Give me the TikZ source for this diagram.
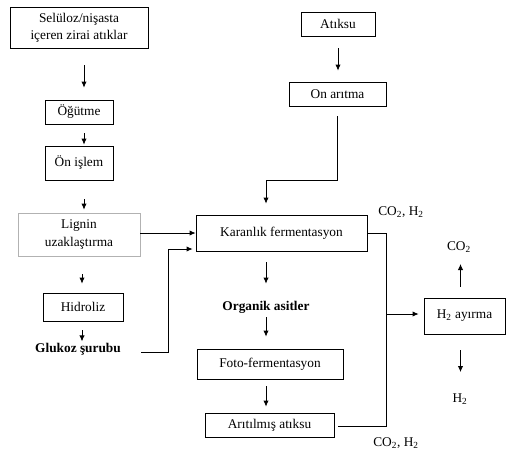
\documentclass[tikz,border=0pt]{standalone}
\usepackage{fontspec}
\setmainfont{Liberation Serif}
\usetikzlibrary{arrows.meta}

\begin{document}
\begin{tikzpicture}[x=0.75pt,y=-0.75pt,font=\fontsize{10}{13}\selectfont,
  box/.style={draw,line width=0.6pt,align=center,inner sep=1pt},
  lbl/.style={inner sep=1pt},
  arr/.style={-{Latex[length=4.5pt,width=4pt]},line width=0.6pt},
  ln/.style={line width=0.6pt}]
\useasboundingbox (0,0) rectangle (506,454);

% left column
\node[box,minimum width=103.5pt,minimum height=30.75pt] (sel) at (79,27.5) {Selüloz/nişasta\\içeren zirai atıklar};
\node[box,minimum width=51pt,minimum height=18pt] (ogu) at (79,112) {Öğütme};
\node[box,minimum width=51pt,minimum height=25.5pt] (onis) at (79,163) {Ön işlem};
\node[box,draw=gray!60,minimum width=91.5pt,minimum height=32.25pt] (lig) at (79,234.5) {Lignin\\uzaklaştırma};
\node[box,minimum width=60pt,minimum height=21pt] (hid) at (83,307) {Hidroliz};
\node[lbl,font=\bfseries] (glu) at (78,349) {Glukoz şurubu};

% waste water
\node[box,minimum width=55.5pt,minimum height=18pt] (atik) at (338,24) {Atıksu};
\node[box,minimum width=72.75pt,minimum height=18pt] (onar) at (337.5,94) {On arıtma};

% middle column
\node[box,minimum width=128.25pt,minimum height=27pt] (kar) at (281.5,233) {Karanlık fermentasyon};
\node[lbl,font=\bfseries] (org) at (266,307) {Organik asitler};
\node[box,minimum width=109.5pt,minimum height=22.5pt] (foto) at (270,364) {Foto-fermentasyon};
\node[box,minimum width=96.75pt,minimum height=18pt] (arit) at (269.5,425) {Arıtılmış atıksu};

% right side
\node[box,minimum width=60.75pt,minimum height=27pt] (h2ay) at (464.5,316) {H\textsubscript{2} ayırma};
\node[lbl] (gtop) at (401,212) {CO\textsubscript{2}, H\textsubscript{2}};
\node[lbl] (gbot) at (396,443) {CO\textsubscript{2}, H\textsubscript{2}};
\node[lbl] (co2) at (459,247) {CO\textsubscript{2}};
\node[lbl] (h2) at (460,399) {H\textsubscript{2}};

\coordinate (bend) at (266,180);
\coordinate (gk) at (168,249);
\coordinate (rt) at (386,233);
\coordinate (rb) at (386,426);

% arrows
\draw[arr,shorten <=12.75pt,shorten >=9pt] ([xshift=3.75pt]sel.south) -- ([xshift=3.75pt]ogu.north);
\draw[arr,shorten <=6.75pt,shorten >=.75pt] ([xshift=3.75pt]ogu.south) -- ([xshift=3.75pt]onis.north);
\draw[arr,shorten <=14.25pt,shorten >=2.25pt] ([xshift=3.75pt]onis.south) -- ([xshift=3.75pt]lig.north);
\draw[arr,shorten <=13.5pt,shorten >=6.75pt] ([xshift=-.75pt]hid.north |- lig.south) -- ([xshift=-.75pt]hid.north);
\draw[arr,shorten <=6.75pt] ([xshift=-.75pt]hid.south) -- ([xshift=-.75pt]hid.south |- glu.north);
\draw[arr,shorten <=9pt,shorten >=8.25pt] (atik.south) -- (atik.south |- onar.north);
\draw[arr,shorten >=8.25pt] ([yshift=-7.5pt]onar.south) |- (bend) -- (bend |- kar.north);
\draw[arr] (lig.east |- kar.west) -- (kar.west);
\draw[arr,shorten <=14pt,shorten >=2.25pt] (glu.base east) -| (gk) -- (gk -| kar.west);
\draw[arr,shorten <=8.25pt,shorten >=11.75pt] (org.north |- kar.south) -- (org.north);
\draw[arr,shorten <=2pt,shorten >=9pt] (org.south) -- (org.south |- foto.north);
\draw[arr,shorten <=5.25pt,shorten >=4.5pt] (org.south |- foto.south) -- (org.south |- arit.north);
\draw[ln] (kar.east) -- (rt) -- (rb) -- ([xshift=3pt]arit.east |- rb);
\draw[arr,shorten >=3.75pt] ([yshift=1.5pt]h2ay.west -| rt) -- ([yshift=1.5pt]h2ay.west);
\draw[arr,shorten <=8.25pt,shorten >=7.5pt] ([xshift=-3pt]h2ay.north) -- ([xshift=-3pt]h2ay.north |- co2.south);
\draw[arr,shorten <=12pt,shorten >=15pt] ([xshift=-3pt]h2ay.south) -- ([xshift=-3pt]h2ay.south |- h2.north);

\end{tikzpicture}
\end{document}
